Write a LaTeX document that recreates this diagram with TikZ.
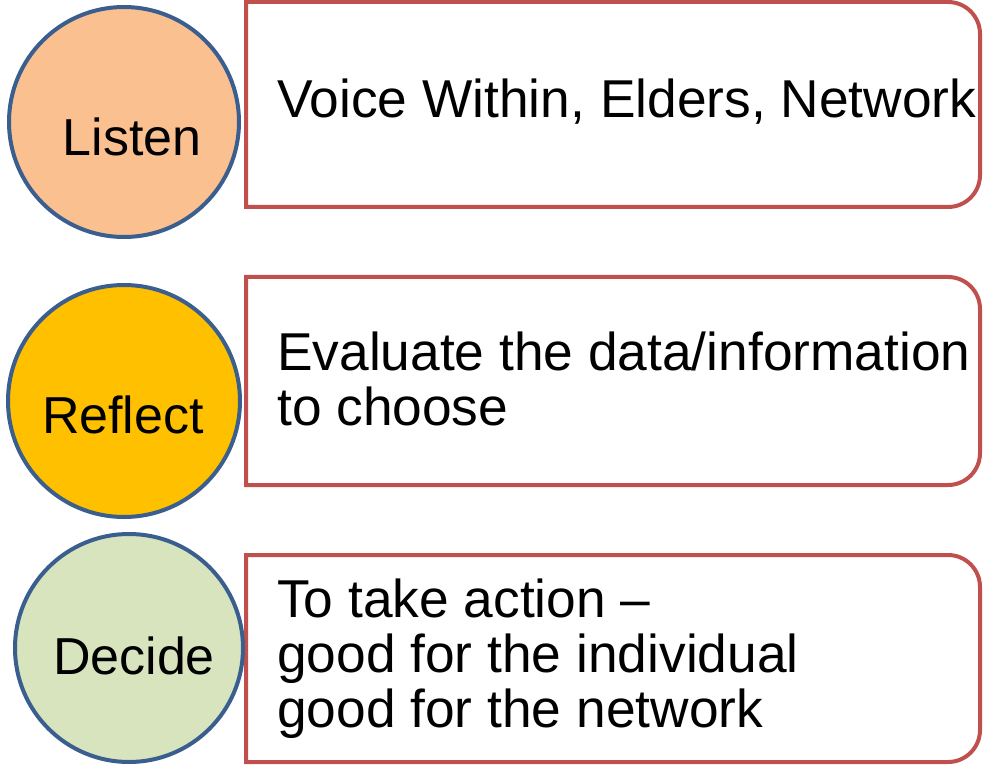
\documentclass[tikz,border=0pt]{standalone}
\usepackage{fontspec}
\setmainfont{Liberation Sans}
\definecolor{ringblue}{HTML}{3A5F8E}
\definecolor{boxred}{HTML}{C0504D}
\definecolor{listenfill}{HTML}{FAC090}
\definecolor{reflectfill}{HTML}{FFC000}
\definecolor{decidefill}{HTML}{D7E4BD}
\tikzset{
  stage/.style={circle, draw=ringblue, line width=4pt, inner sep=0pt},
  stagetext/.style={anchor=base, inner sep=0pt, font=\fontsize{52}{55}\selectfont},
  boxline/.style={draw=boxred, line width=4pt, fill=white},
  boxtext/.style={anchor=base west, align=left, inner sep=0pt, font=\fontsize{53.3}{55}\selectfont}
}
\newcommand{\rightroundbox}[4]{% left, right, bottom, top
  \path[boxline] (#1,#4) -- ({#2-32},#4) arc[start angle=90, end angle=0, radius=32]
    -- (#2,{#3+32}) arc[start angle=0, end angle=-90, radius=32] -- (#1,#3) -- cycle;}
\begin{document}
\begin{tikzpicture}[x=1pt,y=1pt]
\useasboundingbox (0,0) rectangle (984,764);
\fill[white] (0,0) rectangle (984,764);
% boxes
\rightroundbox{246}{980}{557}{762}
\rightroundbox{246}{980}{279}{487}
\rightroundbox{246}{980}{2}{209}
% circles
\node[stage, fill=listenfill, minimum size=230pt] (listen) at (124,642) {};
\node[stage, fill=reflectfill, minimum size=232pt] (reflect) at (124,363) {};
\node[stage, fill=decidefill, minimum size=228pt] (decide) at (129,116) {};
\node[stagetext] (tlisten) at (132,608) {Listen};
\node[stagetext] (treflect) at (123,331) {Reflect};
\node[stagetext] (tdecide) at (134,90) {Decide};
% box texts (base = baseline of last line)
\node[boxtext] (t1) at (277,646) {Voice Within, Elders, Network};
\node[boxtext] (t2) at (277,339) {Evaluate the data/information\\to choose};
\node[boxtext] (t3) at (277,37) {To take action --\\good for the individual\\good for the network};
\end{tikzpicture}
\end{document}
